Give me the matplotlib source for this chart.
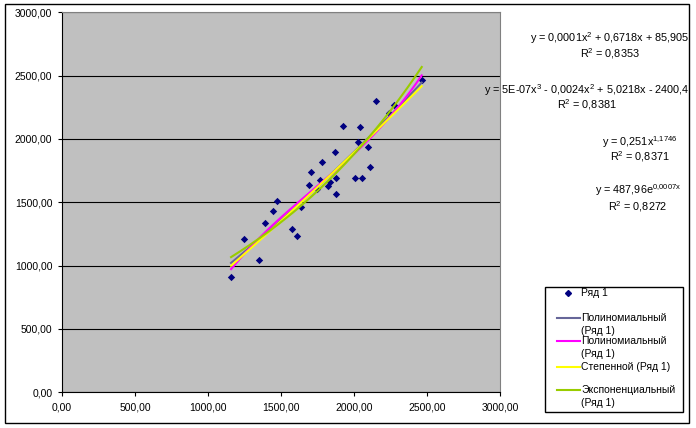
import matplotlib
matplotlib.use("Agg")
import matplotlib.pyplot as plt
import numpy as np
from matplotlib.lines import Line2D
from matplotlib.patches import Rectangle
from matplotlib.ticker import FuncFormatter, MultipleLocator

plt.rcParams['font.family'] = ['Liberation Sans', 'DejaVu Sans']
plt.rcParams['mathtext.fontset'] = 'custom'
plt.rcParams['mathtext.rm'] = 'Liberation Sans'
plt.rcParams['mathtext.it'] = 'Liberation Sans:italic'
plt.rcParams['mathtext.default'] = 'regular'

# data
x = [1158, 1249, 1351, 1392, 1443, 1470, 1575, 1612, 1639, 1694,
     1708, 1744, 1767, 1783, 1819, 1836, 1872, 1877, 1875, 1927,
     2005, 2030, 2041, 2057, 2098, 2110, 2149, 2240, 2272, 2464]
y = [908, 1210, 1042, 1339, 1429, 1508, 1287, 1234, 1465, 1639,
     1742, 1603, 1676, 1821, 1626, 1663, 1900, 1690, 1563, 2105,
     1690, 1978, 2092, 1690, 1934, 1776, 2297, 2207, 2268, 2466]

legend_labels = ["Ряд 1", "Полиномиальный\n(Ряд 1)", "Полиномиальный\n(Ряд 1)",
                 "Степенной (Ряд 1)", "Экспоненциальный\n(Ряд 1)"]
trend_colors = ["#666699", "#FF00FF", "#FFFF00", "#99CC00"]

equations = ["y = 0,0001x$^2$ + 0,6718x + 85,905",
             "y = 5E-07x$^3$ - 0,0024x$^2$ + 5,0218x - 2400,4",
             "y = 0,251x$^{1{,}1746}$",
             "y = 487,96e$^{0{,}0007x}$"]
r2_texts = ["R$^2$ = 0,8353", "R$^2$ = 0,8381", "R$^2$ = 0,8371", "R$^2$ = 0,8272"]

W, H = 696, 428
def px(a, b):
    return (a / W, 1 - b / H)

fig = plt.figure(figsize=(W / 100, H / 100), dpi=100)
fig.patch.set_facecolor('white')
fig.patches.append(Rectangle(px(5, 423), 684 / W, 419 / H, transform=fig.transFigure,
                             fill=False, edgecolor='black', linewidth=1))

ax = fig.add_axes([62 / W, 1 - 392.3 / H, 438 / W, 380 / H])
ax.set_facecolor('#C0C0C0')
ax.set_xlim(0, 3000)
ax.set_ylim(0, 3000)
ax.xaxis.set_major_locator(MultipleLocator(500))
ax.yaxis.set_major_locator(MultipleLocator(500))
fmt = FuncFormatter(lambda v, p: f"{v:.2f}".replace('.', ','))
ax.xaxis.set_major_formatter(fmt)
ax.yaxis.set_major_formatter(fmt)
ax.tick_params(direction='out', length=3, width=0.8, labelsize=7.5, pad=4)
ax.grid(axis='y', color='black', linewidth=0.8)
ax.set_axisbelow(True)
for s in ['top', 'right']:
    ax.spines[s].set_color('#808080')
for s in ['left', 'bottom']:
    ax.spines[s].set_color('black')

xa = np.array(x, dtype=float)
ya = np.array(y, dtype=float)
ax.scatter(xa, ya, marker='D', s=14, color='#000080', zorder=3, linewidths=0)

# trend lines fitted the same way Excel does
xs = np.linspace(xa.min(), xa.max(), 200)
fits = [np.polyval(np.polyfit(xa, ya, 2), xs),
        np.polyval(np.polyfit(xa, ya, 3), xs)]
b, a = np.polyfit(np.log(xa), np.log(ya), 1)
fits.append(np.exp(a) * xs ** b)
k, c = np.polyfit(xa, np.log(ya), 1)
fits.append(np.exp(c) * np.exp(k * xs))
for f, col in zip(fits, trend_colors):
    ax.plot(xs, f, color=col, linewidth=1.5, zorder=4)

# equations
eq_pos = [(610, 38.5, 54), (587, 90, 104.5), (640, 142.5, 157), (638, 190.5, 206.5)]
for (cx, y1, y2), eq, r2 in zip(eq_pos, equations, r2_texts):
    fig.text(*px(cx, y1), eq, ha='center', va='center', fontsize=7.8)
    fig.text(*px(cx, y2), r2, ha='center', va='center', fontsize=7.8)

# legend box
fig.patches.append(Rectangle(px(545, 412), 138 / W, 125 / H, transform=fig.transFigure,
                             facecolor='white', edgecolor='black', linewidth=1))
entry_y = [293, 318.3, 341, 367, 390]
fig.lines.append(Line2D([568 / W], [1 - 293 / H], transform=fig.transFigure,
                        marker='D', markersize=3, color='#000080', linestyle='none'))
for ey, col in zip(entry_y[1:], trend_colors):
    fig.lines.append(Line2D([557 / W, 580 / W], [1 - ey / H] * 2, transform=fig.transFigure,
                            color=col, linewidth=1.5))
for ey, lab in zip(entry_y, legend_labels):
    for i, part in enumerate(lab.split('\n')):
        fig.text(*px(581, ey + i * 13), part, ha='left', va='center', fontsize=7.5)

fig.savefig('out.png', dpi=100)
